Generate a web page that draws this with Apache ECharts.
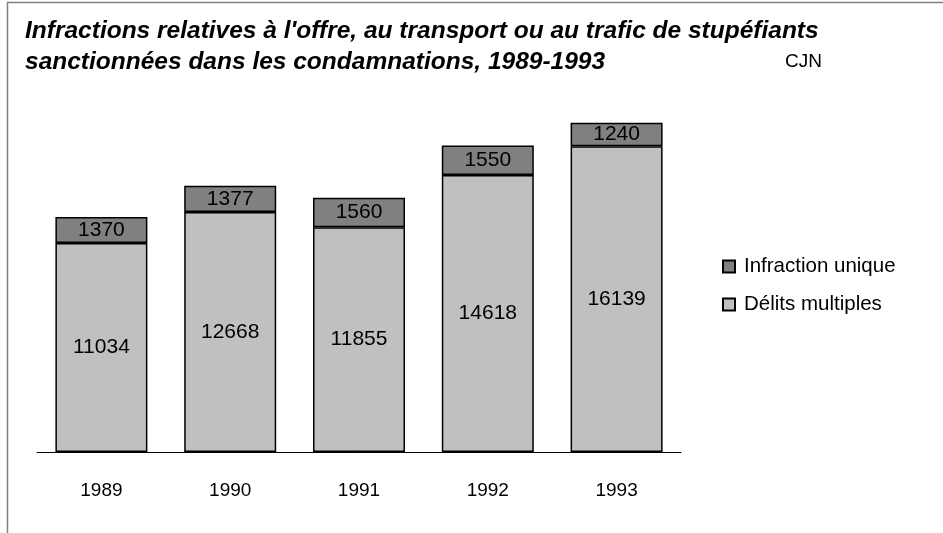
<!DOCTYPE html>
<html>
<head>
<meta charset="utf-8">
<script src="https://cdn.jsdelivr.net/npm/echarts@6/dist/echarts.min.js"></script>
<style>
  html, body { margin: 0; padding: 0; background: #fff; }
  #chart { width: 943px; height: 533px; }
</style>
</head>
<body>
<div id="chart"></div>
<script>
// Years shown on the category axis
const years = ['1989', '1990', '1991', '1992', '1993'];
// Convictions with several offences (lower segment)
const delitsMultiples = [11034, 12668, 11855, 14618, 16139];
// Convictions with a single offence (upper segment)
const infractionUnique = [1370, 1377, 1560, 1550, 1240];

const FONT = 'Liberation Sans, Arial, sans-serif';

const chart = echarts.init(document.getElementById('chart'), null, { renderer: 'canvas' });

const labelStyle = {
  show: true,
  position: 'inside',
  color: '#000',
  fontFamily: FONT,
  fontSize: 21
};

chart.setOption({
  animation: false,
  backgroundColor: '#fff',
  title: {
    text: "Infractions relatives à l'offre, au transport ou au trafic de stupéfiants\nsanctionnées dans les condamnations, 1989-1993",
    left: 20,
    top: 11,
    textStyle: {
      fontFamily: FONT,
      fontSize: 24.5,
      fontWeight: 'bold',
      fontStyle: 'italic',
      color: '#000',
      lineHeight: 31
    }
  },
  legend: {
    orient: 'vertical',
    left: 722,
    top: 256,
    padding: 0,
    itemWidth: 12,
    itemHeight: 12,
    itemGap: 17,
    icon: 'rect',
    data: ['Infraction unique', 'Délits multiples'],
    textStyle: { fontFamily: FONT, fontSize: 20.5, color: '#000', padding: [0, 0, 0, 4] }
  },
  grid: { left: 37, right: 262, top: 73, bottom: 81, containLabel: false },
  xAxis: {
    type: 'category',
    data: years,
    axisLine: { show: true, lineStyle: { color: '#000', width: 1 } },
    axisTick: { show: false },
    axisLabel: { color: '#000', fontFamily: FONT, fontSize: 19, margin: 29 }
  },
  yAxis: {
    type: 'value',
    min: 0,
    max: 20000,
    show: false,
    splitLine: { show: false }
  },
  series: [
    {
      name: 'Délits multiples',
      type: 'bar',
      stack: 'total',
      barWidth: 92,
      data: delitsMultiples,
      itemStyle: { color: '#c0c0c0', borderColor: '#000', borderWidth: 1.5 },
      label: labelStyle
    },
    {
      name: 'Infraction unique',
      type: 'bar',
      stack: 'total',
      barWidth: 92,
      data: infractionUnique,
      itemStyle: { color: '#808080', borderColor: '#000', borderWidth: 1.5 },
      label: labelStyle
    }
  ],
  graphic: [
    {
      type: 'polyline',
      shape: { points: [[7.5, 533], [7.5, 2.5], [943, 2.5]] },
      style: { stroke: '#808080', lineWidth: 1.5, fill: null },
      silent: true
    },
    {
      type: 'text',
      left: 785,
      top: 52,
      style: { text: 'CJN', fontFamily: FONT, fontSize: 19, fill: '#000' },
      silent: true
    }
  ]
});
</script>
</body>
</html>
